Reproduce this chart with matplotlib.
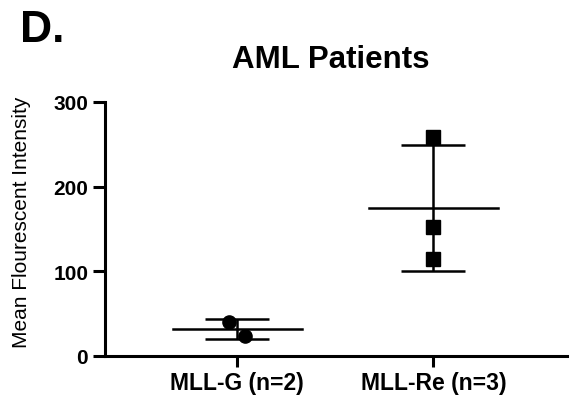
import numpy as np
import matplotlib
matplotlib.use('Agg')
import matplotlib.pyplot as plt

plt.rcParams['font.family'] = ['Liberation Sans', 'DejaVu Sans']

# data
groups = ['MLL-G (n=2)', 'MLL-Re (n=3)']
mll_g = [40, 23]
mll_re = [258, 152, 115]
values = [mll_g, mll_re]
markers = ['o', 's']
jitter = [[-0.04, 0.04], [0, 0, 0]]

fig = plt.figure(figsize=(5.76, 4.02), dpi=100)
ax = fig.add_axes([0.182, 0.112, 0.802, 0.632])

for i, v in enumerate(values):
    v = np.array(v, dtype=float)
    m = v.mean()
    sd = v.std(ddof=1)
    ax.plot(i + np.array(jitter[i]), v, linestyle='none', marker=markers[i],
            color='black', markersize=9.5, zorder=3)
    ax.plot([i - 0.33, i + 0.33], [m, m], color='black', lw=1.8)
    ax.errorbar(i, m, yerr=sd, fmt='none', ecolor='black', elinewidth=1.8,
                capsize=23, capthick=1.8)

ax.set_xlim(-0.675, 1.68)
ax.set_ylim(0, 300)
ax.set_yticks([0, 100, 200, 300])
ax.set_xticks([0, 1])
ax.set_xticklabels(groups, fontsize=16.5, fontweight='bold')
ax.tick_params(axis='y', labelsize=15, width=2.2, length=9, pad=3)
ax.tick_params(axis='x', width=2.2, length=8, pad=3)
for lab in ax.get_yticklabels():
    lab.set_fontweight('bold')
for s in ['top', 'right']:
    ax.spines[s].set_visible(False)
for s in ['left', 'bottom']:
    ax.spines[s].set_linewidth(2.2)

ax.set_ylabel('Mean Flourescent Intensity', fontsize=15)
ax.yaxis.set_label_coords(-0.16, 0.53)
ax.set_title('AML Patients', fontsize=22.5, fontweight='bold', pad=25, x=0.49)
fig.text(0.035, 0.895, 'D.', fontsize=32, fontweight='bold')

fig.savefig('out.png', dpi=100)
